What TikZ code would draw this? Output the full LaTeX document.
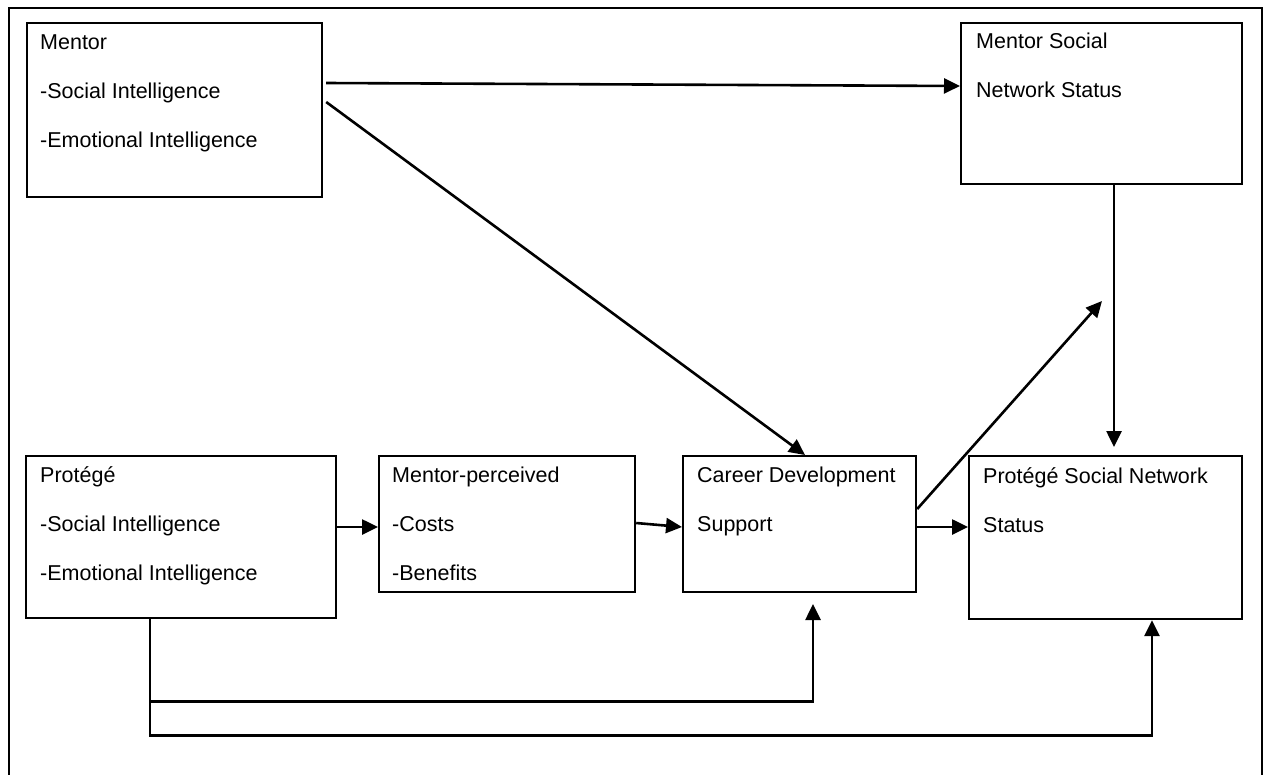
\documentclass[tikz,border=0pt]{standalone}
\usepackage{fontspec}
\setmainfont{Liberation Sans}
\usetikzlibrary{arrows.meta,calc}
\begin{document}
\begin{tikzpicture}[x=1pt,y=-1pt,
  box/.style={draw=black, line width=2.2pt, inner sep=0pt, anchor=north west, rectangle},
  txt/.style={inner sep=0pt, anchor=base west, font=\fontsize{21.5}{25}\selectfont},
  conn/.style={line width=2.6pt, -{Triangle[length=16pt,width=15pt]}},
  plain/.style={line width=2.6pt}]
\useasboundingbox (0,0) rectangle (1264,774);
% outer frame (bottom edge lies outside the picture)
\draw[line width=2.4pt] (9,780) -- (9,8) -- (1262,8) -- (1262,780);
% boxes
\node[box, minimum width=295pt, minimum height=174pt] (mentor) at (26,22) {};
\node[box, minimum width=281pt, minimum height=161pt] (msocial) at (960,22) {};
\node[box, minimum width=310pt, minimum height=162pt] (protege) at (25,455) {};
\node[box, minimum width=256pt, minimum height=136pt] (perceived) at (378,455) {};
\node[box, minimum width=233pt, minimum height=136pt] (career) at (682,455) {};
\node[box, minimum width=273pt, minimum height=163pt] (psocial) at (968,455) {};
% texts
\node[txt] (t1a) at (40,49) {Mentor};
\node[txt] (t1b) at (40,98) {-Social Intelligence};
\node[txt] (t1c) at (40,147) {-Emotional Intelligence};
\node[txt] (t2a) at (976,48) {Mentor Social};
\node[txt] (t2b) at (976,97) {Network Status};
\node[txt] (t3a) at (40,482) {Protégé};
\node[txt] (t3b) at (40,531) {-Social Intelligence};
\node[txt] (t3c) at (40,580) {-Emotional Intelligence};
\node[txt] (t4a) at (392,482) {Mentor-perceived};
\node[txt] (t4b) at (392,531) {-Costs};
\node[txt] (t4c) at (392,580) {-Benefits};
\node[txt] (t5a) at (697,482) {Career Development};
\node[txt] (t5b) at (697,531) {Support};
\node[txt] (t6a) at (983,483) {Protégé Social Network};
\node[txt] (t6b) at (983,532) {Status};
% free ends
\coordinate (upend) at (1102,301);
\coordinate (cdend) at (813,604);
% connectors
\draw[conn] ($(mentor.north east)+(3,61)$) -- ($(msocial.north west)+(0,64)$);
\draw[conn] ($(mentor.north east)+(3,80)$) -- ($(career.north west)+(123,0)$);
\draw[conn] ($(protege.north east)+(0,72)$) -- ($(perceived.north west)+(0,72)$);
\draw[conn] ($(perceived.north east)+(0,68)$) -- ($(career.north west)+(0,72)$);
\draw[conn] ($(career.north east)+(0,72)$) -- ($(psocial.north west)+(0,72)$);
\draw[conn] ($(career.north east)+(0,54)$) -- (upend);
\draw[conn] ($(msocial.south west)+(154,0)$) -- ($(psocial.north west)+(146,-8)$);
\draw[conn] ($(protege.south west)+(125,0)$) -- ++(0,116) -| ($(psocial.south west)+(184,0)$);
\draw[conn] ($(protege.south west)+(125,82)$) -| (cdend);
\end{tikzpicture}
\end{document}
